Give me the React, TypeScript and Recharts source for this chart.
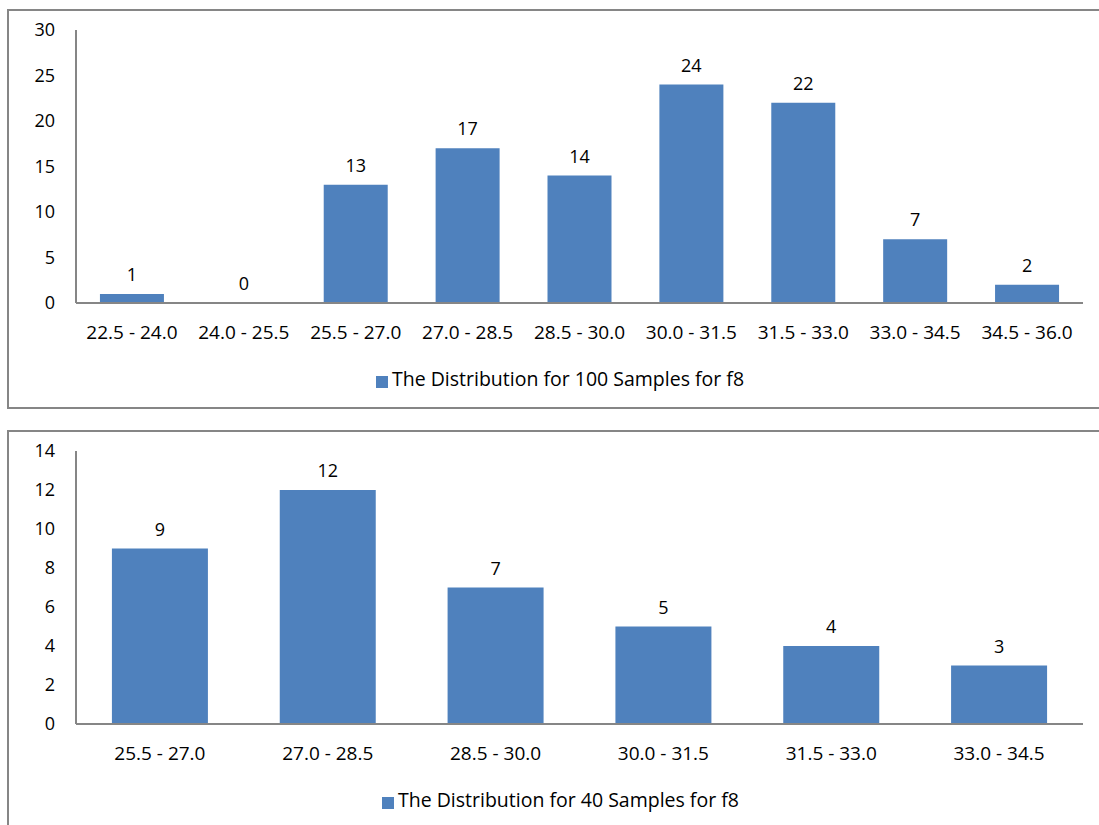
import { ComposedChart, Bar, Line, XAxis, YAxis, Legend, LabelList } from 'recharts';

const bins100 = [
  '22.5 - 24.0',
  '24.0 - 25.5',
  '25.5 - 27.0',
  '27.0 - 28.5',
  '28.5 - 30.0',
  '30.0 - 31.5',
  '31.5 - 33.0',
  '33.0 - 34.5',
  '34.5 - 36.0',
];
const counts100 = [1, 0, 13, 17, 14, 24, 22, 7, 2];
const ticks100 = [0, 5, 10, 15, 20, 25, 30];

const bins40 = ['25.5 - 27.0', '27.0 - 28.5', '28.5 - 30.0', '30.0 - 31.5', '31.5 - 33.0', '33.0 - 34.5'];
const counts40 = [9, 12, 7, 5, 4, 3];
const ticks40 = [0, 2, 4, 6, 8, 10, 12, 14];

const FONT = '"Open Sans", sans-serif';
const BAR = '#4f81bd';
const GRAY = '#868686';

// x labels drawn by hand so the font size sticks
const BinTick = ({ x, y, payload }: any) => (
  <text x={x} y={y} dy="0.355em" textAnchor="middle" fill="#000" fontSize={19} fontFamily={FONT}>
    {payload.value}
  </text>
);

interface HistProps {
  bins: string[];
  counts: number[];
  ticks: number[];
  name: string;
  top: number;
  legendLeft: number;
}

const HistChart = ({ bins, counts, ticks, name, top, legendLeft }: HistProps) => {
  const data = bins.map((bin, i) => ({ bin, count: counts[i] }));
  const max = ticks[ticks.length - 1];

  return (
    <div style={{ position: 'absolute', left: 0, top }}>
      <ComposedChart
        width={1099}
        height={407}
        data={data}
        barCategoryGap="21.4%"
        margin={{ top: 30, right: 16, left: 0, bottom: 15 }}
        style={{ fontFamily: FONT }}
      >
        <XAxis
          dataKey="bin"
          tickLine={false}
          tickSize={0}
          tickMargin={29}
          height={62}
          axisLine={{ stroke: GRAY, strokeWidth: 2 }}
          tick={<BinTick />}
          interval={0}
        />
        <YAxis
          domain={[0, max]}
          ticks={ticks}
          width={76}
          tickLine={false}
          tickSize={0}
          tickMargin={21}
          fontSize={18}
          axisLine={{ stroke: GRAY, strokeWidth: 2 }}
          tick={{ fill: '#000', fontSize: 18 }}
        />
        <Legend
          verticalAlign="bottom"
          iconType="square"
          iconSize={12}
          wrapperStyle={{ left: legendLeft, width: 'auto' }}
          formatter={(value) => <span style={{ color: '#000', fontSize: 19.5 }}>{value}</span>}
        />
        <Bar dataKey="count" name={name} fill={BAR} isAnimationActive={false} />
        {/* invisible line only carries the value labels, so the zero bin gets one too */}
        <Line
          dataKey="count"
          stroke="none"
          dot={false}
          activeDot={false}
          legendType="none"
          isAnimationActive={false}
        >
          <LabelList dataKey="count" position="top" offset={13} fill="#000" fontSize={18} />
        </Line>
      </ComposedChart>
    </div>
  );
};

export default function App() {
  return (
    <div
      style={{
        position: 'absolute',
        left: 0,
        top: 0,
        width: 1099,
        height: 825,
        overflow: 'hidden',
        background: '#fff',
      }}
    >
      <div
        style={{
          position: 'absolute',
          left: 7,
          top: 9,
          width: 1110,
          height: 396,
          border: `2px solid ${GRAY}`,
        }}
      />
      <div
        style={{
          position: 'absolute',
          left: 7,
          top: 430,
          width: 1110,
          height: 420,
          border: `2px solid ${GRAY}`,
        }}
      />
      <HistChart
        bins={bins100}
        counts={counts100}
        ticks={ticks100}
        name="The Distribution for 100 Samples for f8"
        top={0}
        legendLeft={376}
      />
      <HistChart
        bins={bins40}
        counts={counts40}
        ticks={ticks40}
        name="The Distribution for 40 Samples for f8"
        top={421}
        legendLeft={382}
      />
    </div>
  );
}
